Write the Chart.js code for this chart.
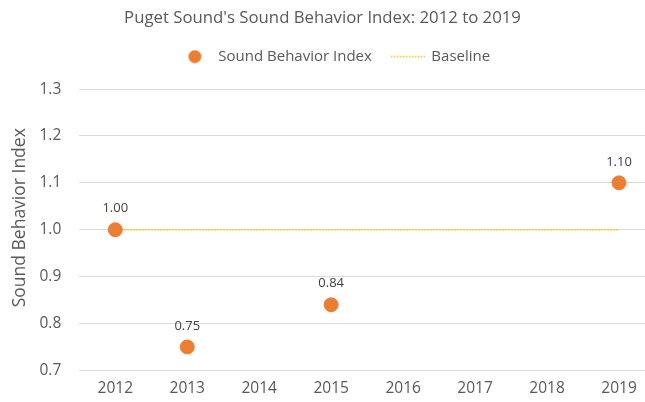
<!DOCTYPE html>
<html>
<head>
<meta charset="utf-8">
<script src="https://cdn.jsdelivr.net/npm/chart.js@4/dist/chart.umd.min.js"></script>
<style>
    html, body { margin: 0; padding: 0; background: #fff; overflow: hidden; }
    #wrap { position: relative; width: 674px; height: 402px; margin-left: -19px; }
</style>
</head>
<body>
<div id="wrap"><canvas id="chart"></canvas></div>
<script>
// Chart data
const years = ['2012', '2013', '2014', '2015', '2016', '2017', '2018', '2019'];
const soundIndex = [1.00, 0.75, null, 0.84, null, null, null, 1.10];
const baseline = [1, 1, 1, 1, 1, 1, 1, 1];
const yTicks = [0.7, 0.8, 0.9, 1.0, 1.1, 1.2, 1.3];

const orange = '#ED7D31';
const gold = '#FFC000';
const grey = '#595959';

// Small images used as legend markers
function makeDot() {
    const c = document.createElement('canvas');
    c.width = 14; c.height = 14;
    const g = c.getContext('2d');
    g.fillStyle = orange;
    g.beginPath();
    g.arc(7, 7, 6.5, 0, Math.PI * 2);
    g.fill();
    return c;
}
function makeDots() {
    const c = document.createElement('canvas');
    c.width = 34; c.height = 6;
    const g = c.getContext('2d');
    g.strokeStyle = gold;
    g.lineWidth = 1.5;
    g.setLineDash([1.5, 1.5]);
    g.beginPath();
    g.moveTo(0, 3);
    g.lineTo(34, 3);
    g.stroke();
    return c;
}

// Value labels above the points
const valueLabels = {
    id: 'valueLabels',
    afterDatasetsDraw(chart) {
        const ctx = chart.ctx;
        const meta = chart.getDatasetMeta(0);
        ctx.save();
        ctx.font = '13px "Open Sans"';
        ctx.fillStyle = '#404040';
        ctx.textAlign = 'center';
        ctx.textBaseline = 'middle';
        meta.data.forEach((pt, i) => {
            const v = soundIndex[i];
            if (v === null || pt.skip) return;
            ctx.fillText(v.toFixed(2), pt.x, pt.y - 21);
        });
        ctx.restore();
    }
};

// Extra room between the legend and the plot, and nudge title and y title
const layoutTweaks = {
    id: 'layoutTweaks',
    beforeInit(chart) {
        const fit = chart.legend.fit;
        chart.legend.fit = function () {
            fit.bind(chart.legend)();
            this.height += 15;
        };
    },
    afterLayout(chart) {
        if (chart.titleBlock) {
            chart.titleBlock.left -= 12;
            chart.titleBlock.right -= 12;
        }
    },
    beforeDraw(chart) {
        const y = chart.scales.y;
        if (y && !y._titleMoved) {
            const drawTitle = y.drawTitle;
            y.drawTitle = function () {
                this.ctx.save();
                this.ctx.translate(0, -12);
                drawTitle.call(this);
                this.ctx.restore();
            };
            y._titleMoved = true;
        }
    }
};

const ctx = document.getElementById('chart').getContext('2d');
new Chart(ctx, {
    type: 'line',
    data: {
        labels: years,
        datasets: [{
            label: 'Sound Behavior Index',
            data: soundIndex,
            showLine: false,
            pointRadius: 7,
            pointHoverRadius: 7,
            pointBackgroundColor: orange,
            pointBorderColor: orange,
            borderColor: orange,
            backgroundColor: orange,
            order: 0
        }, {
            label: 'Baseline',
            data: baseline,
            borderColor: gold,
            borderWidth: 1.5,
            borderDash: [1.5, 1.5],
            pointRadius: 0,
            fill: false,
            order: 1
        }]
    },
    options: {
        responsive: true,
        maintainAspectRatio: false,
        animation: false,
        layout: { autoPadding: false, padding: { left: 33, right: 0, top: 8, bottom: 3 } },
        plugins: {
            title: {
                display: true,
                text: "Puget Sound's Sound Behavior Index: 2012 to 2019",
                color: grey,
                font: { family: 'Open Sans', size: 16.75, weight: 'normal' },
                padding: { top: 0, bottom: 1 }
            },
            legend: {
                position: 'top',
                labels: {
                    usePointStyle: true,
                    pointStyleWidth: 32,
                    color: grey,
                    font: { family: 'Open Sans', size: 15 },
                    padding: 20,
                    generateLabels() {
                        return [
                            { text: 'Sound Behavior Index', pointStyle: makeDot(), fontColor: grey, datasetIndex: 0, lineWidth: 0 },
                            { text: 'Baseline', pointStyle: makeDots(), fontColor: grey, datasetIndex: 1, lineWidth: 0 }
                        ];
                    }
                }
            },
            tooltip: { enabled: false }
        },
        scales: {
            x: {
                offset: true,
                grid: { display: false },
                border: { display: false },
                ticks: { color: grey, font: { family: 'Open Sans', size: 15.5 }, padding: 1 }
            },
            y: {
                min: 0.7,
                max: 1.3,
                afterBuildTicks(scale) {
                    scale.ticks = yTicks.map(v => ({ value: v }));
                },
                grid: { color: '#d9d9d9', drawTicks: false },
                border: { display: false },
                ticks: {
                    color: grey,
                    font: { family: 'Open Sans', size: 15.5 },
                    padding: 18,
                    callback: v => Number(v).toFixed(1)
                },
                title: {
                    display: true,
                    text: 'Sound Behavior Index',
                    color: grey,
                    font: { family: 'Open Sans', size: 17.5, lineHeight: 0.2 },
                    padding: { top: 4, bottom: 0 }
                }
            }
        }
    },
    plugins: [valueLabels, layoutTweaks]
});
</script>
</body>
</html>
